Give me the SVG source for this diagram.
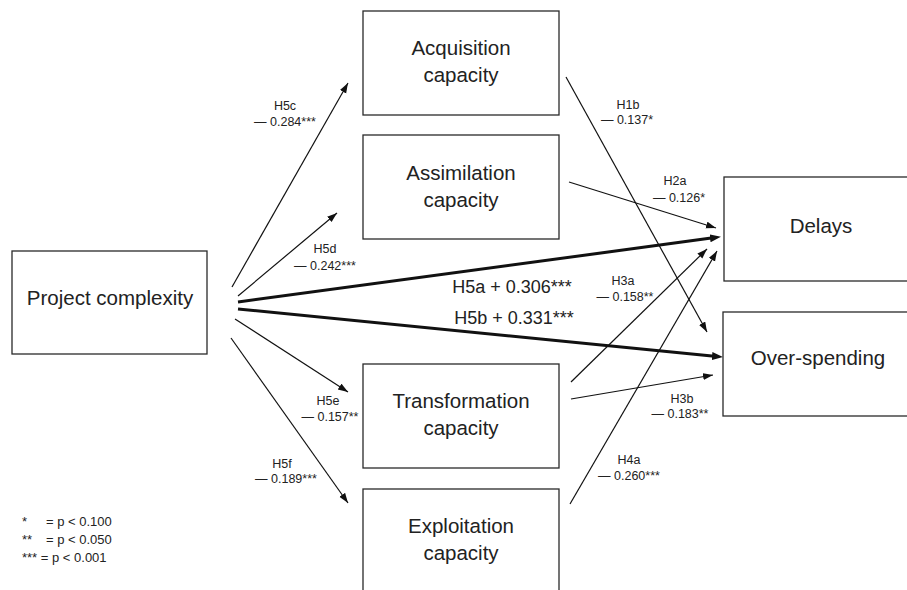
<svg xmlns="http://www.w3.org/2000/svg" width="907" height="590" viewBox="0 0 907 590">
<style>
.box{fill:#fff;stroke:#2a2a2a;stroke-width:1.3}
.nt{font-family:"Liberation Sans",Arial,sans-serif;font-size:20.5px;fill:#222;text-anchor:middle}
.lb{font-family:"Liberation Sans",Arial,sans-serif;font-size:12.5px;fill:#222;text-anchor:middle}
.big{font-family:"Liberation Sans",Arial,sans-serif;font-size:18px;fill:#222;text-anchor:middle}
.lg{font-family:"Liberation Sans",Arial,sans-serif;font-size:13px;fill:#222}
.thin{stroke:#111;stroke-width:1.2;fill:none;marker-end:url(#head)}
.thick{stroke:#111;stroke-width:3;fill:none;marker-end:url(#headT)}
</style>
<defs>
<marker id="head" markerUnits="userSpaceOnUse" markerWidth="11" markerHeight="8" refX="10" refY="3.5" orient="auto"><path d="M0,0 L10,3.5 L0,7 z" fill="#111"/></marker>
<marker id="headT" markerUnits="userSpaceOnUse" markerWidth="12" markerHeight="9" refX="5" refY="4" orient="auto"><path d="M0,0 L11,4 L0,8 z" fill="#111"/></marker>
</defs>
<rect width="907" height="590" fill="#fff"/>
<g id="connectors">
<line class="thin" x1="232" y1="287" x2="348" y2="83"/>
<line class="thin" x1="238" y1="296" x2="337" y2="213"/>
<line class="thick" x1="238" y1="302" x2="715" y2="237.6"/>
<line class="thick" x1="238" y1="309" x2="717" y2="356.5"/>
<line class="thin" x1="235" y1="319" x2="348" y2="392"/>
<line class="thin" x1="231" y1="338" x2="348" y2="503"/>
<line class="thin" x1="566" y1="77" x2="707" y2="332"/>
<line class="thin" x1="569" y1="182" x2="716" y2="228"/>
<line class="thin" x1="571" y1="382" x2="707" y2="249"/>
<line class="thin" x1="571" y1="399" x2="713" y2="375"/>
<line class="thin" x1="570" y1="504" x2="717" y2="251"/>
</g>
<g id="project-complexity"><rect class="box" x="12" y="251" width="195" height="103"/><text class="nt" x="110" y="305">Project complexity</text></g>
<g id="acquisition"><rect class="box" x="363" y="11" width="196" height="104"/><text class="nt" x="461" y="55">Acquisition</text><text class="nt" x="461" y="82">capacity</text></g>
<g id="assimilation"><rect class="box" x="363" y="135" width="196" height="104"/><text class="nt" x="461" y="180">Assimilation</text><text class="nt" x="461" y="207">capacity</text></g>
<g id="transformation"><rect class="box" x="363" y="364" width="196" height="104"/><text class="nt" x="461" y="408">Transformation</text><text class="nt" x="461" y="435">capacity</text></g>
<g id="exploitation"><rect class="box" x="363" y="489" width="196" height="104"/><text class="nt" x="461" y="533">Exploitation</text><text class="nt" x="461" y="560">capacity</text></g>
<g id="delays"><rect class="box" x="724" y="177" width="196" height="104"/><text class="nt" x="821" y="233">Delays</text></g>
<g id="over-spending"><rect class="box" x="723" y="312" width="197" height="104"/><text class="nt" x="818" y="365">Over-spending</text></g>
<g id="labels">
<text class="lb" x="285" y="110">H5c</text><text class="lb" x="285" y="126">— 0.284***</text>
<text class="lb" x="325" y="253">H5d</text><text class="lb" x="325" y="270">— 0.242***</text>
<text class="lb" x="328" y="405">H5e</text><text class="lb" x="330" y="421">— 0.157**</text>
<text class="lb" x="282" y="468">H5f</text><text class="lb" x="286" y="483">— 0.189***</text>
<text class="lb" x="628" y="109">H1b</text><text class="lb" x="627" y="124">— 0.137*</text>
<text class="lb" x="675" y="185">H2a</text><text class="lb" x="679" y="202">— 0.126*</text>
<text class="lb" x="623" y="285">H3a</text><text class="lb" x="625" y="301">— 0.158**</text>
<text class="lb" x="682" y="403">H3b</text><text class="lb" x="680" y="418">— 0.183**</text>
<text class="lb" x="629" y="464">H4a</text><text class="lb" x="629" y="480">— 0.260***</text>
<text class="big" x="512" y="293">H5a + 0.306***</text>
<text class="big" x="514" y="324">H5b + 0.331***</text>
</g>
<g id="legend">
<text class="lg" x="22" y="526">*</text><text class="lg" x="46" y="526">= p &lt; 0.100</text>
<text class="lg" x="22" y="544">**</text><text class="lg" x="46" y="544">= p &lt; 0.050</text>
<text class="lg" x="22" y="562">*** = p &lt; 0.001</text>
</g>
</svg>
